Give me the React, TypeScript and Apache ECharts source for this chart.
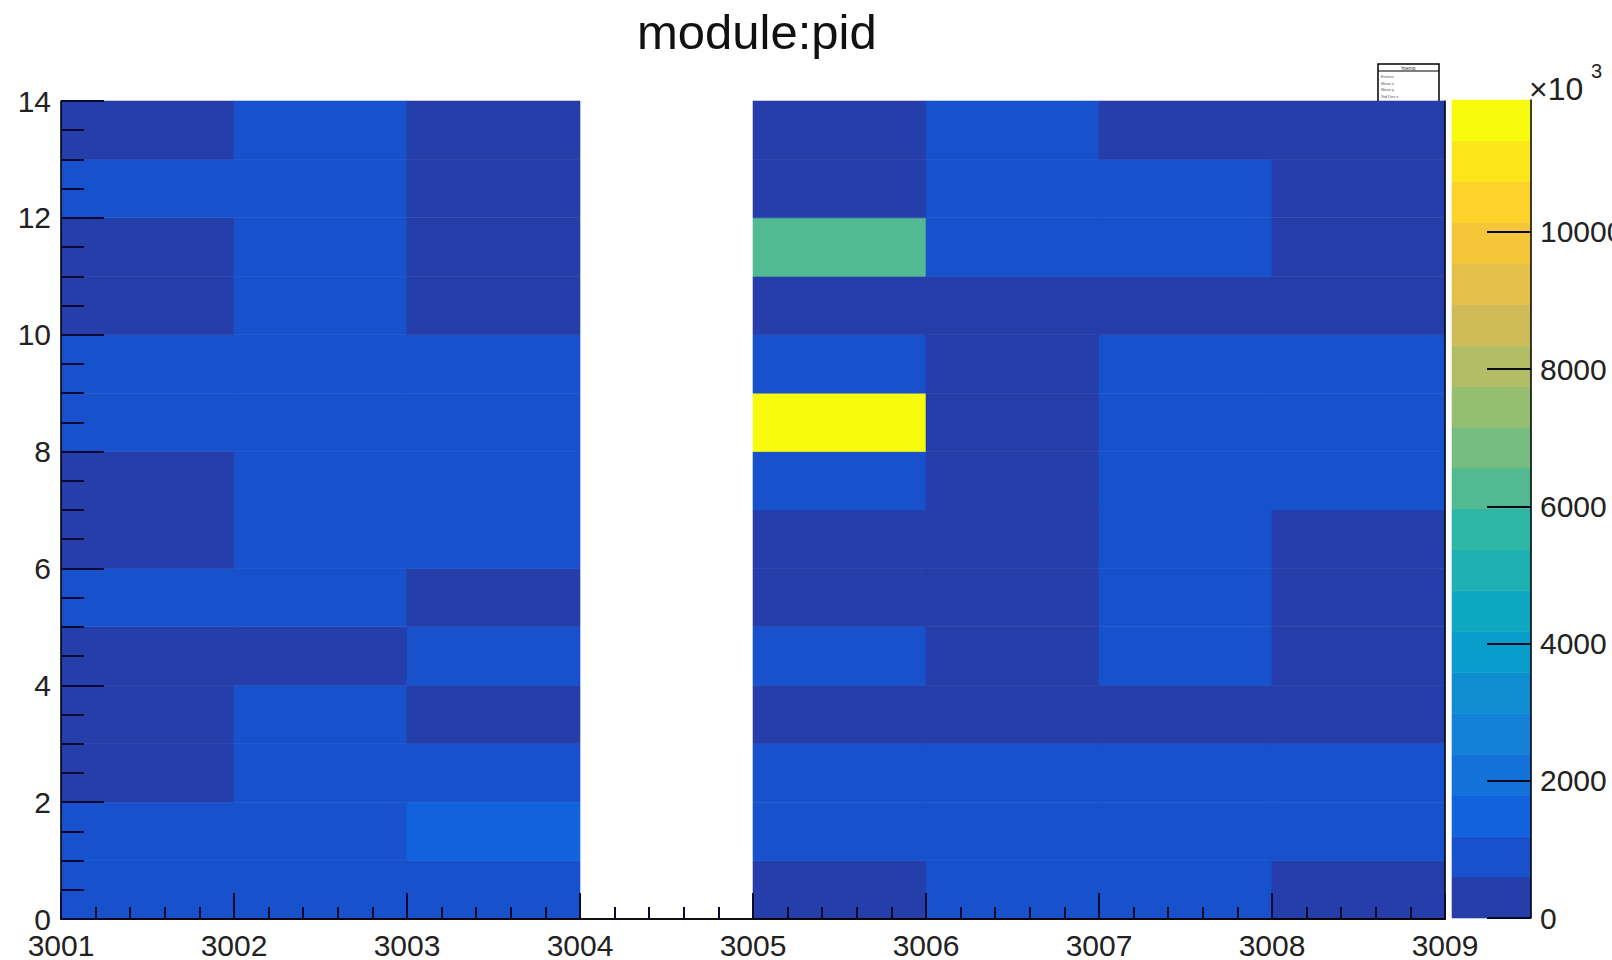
import React, { useEffect, useRef } from "react";
import * as echarts from "echarts";

// ---- data ----
const xTickValues = [3001, 3002, 3003, 3004, 3005, 3006, 3007, 3008, 3009];
const xBinStarts = [3001, 3002, 3003, 3004, 3005, 3006, 3007, 3008];
const yBinStarts = [0, 1, 2, 3, 4, 5, 6, 7, 8, 9, 10, 11, 12, 13];
// counts per module, from pid bin 0 (bottom) to 13 (top); null = empty bin
const col3001 = [950, 900, 320, 340, 310, 920, 330, 350, 880, 910, 300, 320, 940, 330];
const col3002 = [930, 960, 890, 900, 330, 910, 880, 900, 920, 890, 870, 900, 910, 940];
const col3003 = [910, 1450, 900, 310, 930, 340, 900, 880, 910, 920, 320, 310, 330, 300];
const col3004 = [null, null, null, null, null, null, null, null, null, null, null, null, null, null];
const col3005 = [320, 940, 920, 330, 900, 310, 320, 930, 11920, 890, 340, 6300, 310, 320];
const col3006 = [930, 910, 900, 300, 320, 330, 310, 340, 320, 300, 330, 890, 920, 900];
const col3007 = [920, 900, 930, 310, 880, 900, 910, 930, 890, 900, 320, 910, 880, 330];
const col3008 = [330, 910, 900, 320, 300, 310, 330, 900, 920, 880, 310, 320, 300, 330];
const columns = [col3001, col3002, col3003, col3004, col3005, col3006, col3007, col3008];
const zTickValues = [0, 2000, 4000, 6000, 8000, 10000];
const zMax = 11920;
const nContours = 20;
const yTickValues = [0, 2, 4, 6, 8, 10, 12, 14];

// ---- ROOT kBird palette ----
const birdStops = [0.0, 0.125, 0.25, 0.375, 0.5, 0.625, 0.75, 0.875, 1.0];
const birdR = [0.2082, 0.0592, 0.078, 0.0232, 0.1802, 0.5301, 0.8186, 0.9956, 0.9764];
const birdG = [0.1664, 0.3599, 0.5041, 0.6419, 0.7178, 0.7492, 0.7328, 0.7862, 0.9832];
const birdB = [0.5293, 0.8684, 0.8385, 0.7914, 0.6425, 0.4662, 0.3499, 0.1968, 0.0539];

function bird(pos: number): string {
  let i = 0;
  while (i < birdStops.length - 2 && pos > birdStops[i + 1]) i++;
  const t = (pos - birdStops[i]) / (birdStops[i + 1] - birdStops[i]);
  const f = (a: number[]) => Math.round(255 * (a[i] + (a[i + 1] - a[i]) * t));
  return `rgb(${f(birdR)},${f(birdG)},${f(birdB)})`;
}

function colorFor(v: number): string {
  let lvl = Math.floor(0.01 + (v / zMax) * nContours);
  if (lvl >= nContours) lvl = nContours - 1;
  if (lvl < 0) lvl = 0;
  return bird((lvl + 0.99) / nContours);
}

const FONT = "'Liberation Sans', Arial, Helvetica, sans-serif";

export default function App() {
  const ref = useRef<HTMLDivElement>(null);
  useEffect(() => {
    if (!ref.current) return;
    const chart = echarts.init(ref.current, undefined, { renderer: "svg" });

    const cellData: any[] = [];
    xBinStarts.forEach((x, ci) => {
      yBinStarts.forEach((y, ri) => {
        const v = columns[ci][ri];
        if (v !== null && v !== undefined) cellData.push([x, y, v]);
      });
    });
    const bandData: any[] = [];
    for (let i = 0; i < nContours; i++) {
      const lo = (i * zMax) / nContours;
      const hi = ((i + 1) * zMax) / nContours;
      bandData.push([0, lo, hi, (lo + hi) / 2]);
    }

    const labelStyle = { fontSize: 30, color: "#222", fontFamily: FONT };

    chart.setOption({
      animation: false,
      backgroundColor: "#ffffff",
      title: {
        text: "module:pid",
        left: 632,
        top: 2,
        textStyle: { fontSize: 49, fontWeight: "normal", color: "#111", fontFamily: FONT },
      },
      grid: [
        { left: 61, top: 101, width: 1384, height: 818, outerBoundsMode: "none", containLabel: false },
        { left: 1452, top: 100, width: 79, height: 818, outerBoundsMode: "none", containLabel: false },
      ],
      xAxis: [
        {
          type: "value",
          gridIndex: 0,
          min: 3001,
          max: 3009,
          interval: 1,
          z: 5,
          axisLine: { show: true, lineStyle: { color: "#000", width: 1.5 } },
          axisTick: {
            show: true,
            inside: true,
            length: 26,
            lineStyle: { color: "#0a0a30", width: 2 },
            customValues: xTickValues,
          },
          minorTick: { show: true, splitNumber: 5, length: 12, lineStyle: { color: "#0a0a30", width: 2 } },
          axisLabel: { ...labelStyle, margin: 11, customValues: xTickValues, formatter: (v: number) => String(v) },
          splitLine: { show: false },
        },
        {
          type: "value",
          gridIndex: 0,
          position: "top",
          min: 3001,
          max: 3009,
          z: 5,
          axisLine: { show: true, lineStyle: { color: "#000", width: 1.5 } },
          axisTick: { show: false },
          axisLabel: { show: false },
          splitLine: { show: false },
        },
        {
          type: "value",
          gridIndex: 1,
          min: 0,
          max: 1,
          show: false,
        },
      ],
      yAxis: [
        {
          type: "value",
          gridIndex: 0,
          min: 0,
          max: 14,
          interval: 2,
          z: 5,
          axisLine: { show: true, lineStyle: { color: "#000", width: 1.5 } },
          axisTick: {
            show: true,
            inside: true,
            length: 43,
            lineStyle: { color: "#0a0a30", width: 2 },
            customValues: yTickValues,
          },
          minorTick: { show: true, splitNumber: 4, length: 23, lineStyle: { color: "#0a0a30", width: 2 } },
          axisLabel: { ...labelStyle, margin: 10, customValues: yTickValues },
          splitLine: { show: false },
        },
        {
          type: "value",
          gridIndex: 0,
          position: "right",
          min: 0,
          max: 14,
          z: 5,
          axisLine: { show: true, lineStyle: { color: "#000", width: 1.5 } },
          axisTick: { show: false },
          axisLabel: { show: false },
          splitLine: { show: false },
        },
        {
          type: "value",
          gridIndex: 1,
          position: "right",
          min: 0,
          max: zMax,
          z: 5,
          axisLine: { show: true, onZero: false, lineStyle: { color: "#000", width: 1.5 } },
          axisTick: {
            show: true,
            inside: true,
            length: 44,
            lineStyle: { color: "#0a0a20", width: 2 },
            customValues: zTickValues,
          },
          axisLabel: { ...labelStyle, margin: 9, customValues: zTickValues, formatter: (v: number) => String(v) },
          splitLine: { show: false },
        },
      ],
      series: [
        {
          type: "custom",
          xAxisIndex: 0,
          yAxisIndex: 0,
          z: 2,
          encode: { x: 0, y: 1 },
          data: cellData,
          renderItem: (_p: any, api: any) => {
            const x = api.value(0);
            const y = api.value(1);
            const v = api.value(2);
            const p0 = api.coord([x, y]);
            const p1 = api.coord([x + 1, y + 1]);
            const c = colorFor(v);
            return {
              type: "rect",
              shape: { x: p0[0], y: p1[1], width: p1[0] - p0[0], height: p0[1] - p1[1] },
              style: { fill: c, stroke: c, lineWidth: 0.6 },
            };
          },
        },
        {
          type: "custom",
          xAxisIndex: 2,
          yAxisIndex: 2,
          z: 2,
          encode: { x: 0, y: 1 },
          data: bandData,
          renderItem: (_p: any, api: any) => {
            const lo = api.value(1);
            const hi = api.value(2);
            const mid = api.value(3);
            const p0 = api.coord([0, lo]);
            const p1 = api.coord([1, hi]);
            const c = colorFor(mid);
            return {
              type: "rect",
              shape: { x: p0[0], y: p1[1], width: p1[0] - p0[0], height: p0[1] - p1[1] },
              style: { fill: c, stroke: c, lineWidth: 0.6 },
            };
          },
        },
      ],
      graphic: [
        {
          type: "text",
          left: 1529,
          top: 73,
          z: 10,
          style: { text: "×10", fontSize: 32, fill: "#222", fontFamily: FONT },
        },
        {
          type: "text",
          left: 1591,
          top: 61,
          z: 10,
          style: { text: "3", fontSize: 20, fill: "#222", fontFamily: FONT },
        },
        {
          type: "group",
          x: 1378,
          y: 64,
          z: 20,
          children: [
            {
              type: "rect",
              shape: { x: 0, y: 0, width: 61, height: 44 },
              style: { fill: "#fff", stroke: "#000", lineWidth: 1.5 },
            },
            { type: "line", shape: { x1: 0, y1: 7, x2: 61, y2: 7 }, style: { stroke: "#000", lineWidth: 1 } },
            { type: "text", x: 30.5, y: 1, style: { text: "htemp", fontSize: 5, fill: "#333", align: "center", fontFamily: FONT } },
            { type: "text", x: 3, y: 10, style: { text: "Entries", fontSize: 4, fill: "#555", fontFamily: FONT } },
            { type: "text", x: 3, y: 17, style: { text: "Mean x", fontSize: 4, fill: "#555", fontFamily: FONT } },
            { type: "text", x: 3, y: 23, style: { text: "Mean y", fontSize: 4, fill: "#555", fontFamily: FONT } },
            { type: "text", x: 3, y: 30, style: { text: "Std Dev x", fontSize: 4, fill: "#555", fontFamily: FONT } },
            { type: "text", x: 3, y: 36, style: { text: "Std Dev y", fontSize: 4, fill: "#555", fontFamily: FONT } },
          ],
        },
      ],
    });
    return () => chart.dispose();
  }, []);

  return (
    <div
      ref={ref}
      style={{ position: "absolute", left: 0, top: 0, width: 1612, height: 960, overflow: "hidden", background: "#fff" }}
    />
  );
}
